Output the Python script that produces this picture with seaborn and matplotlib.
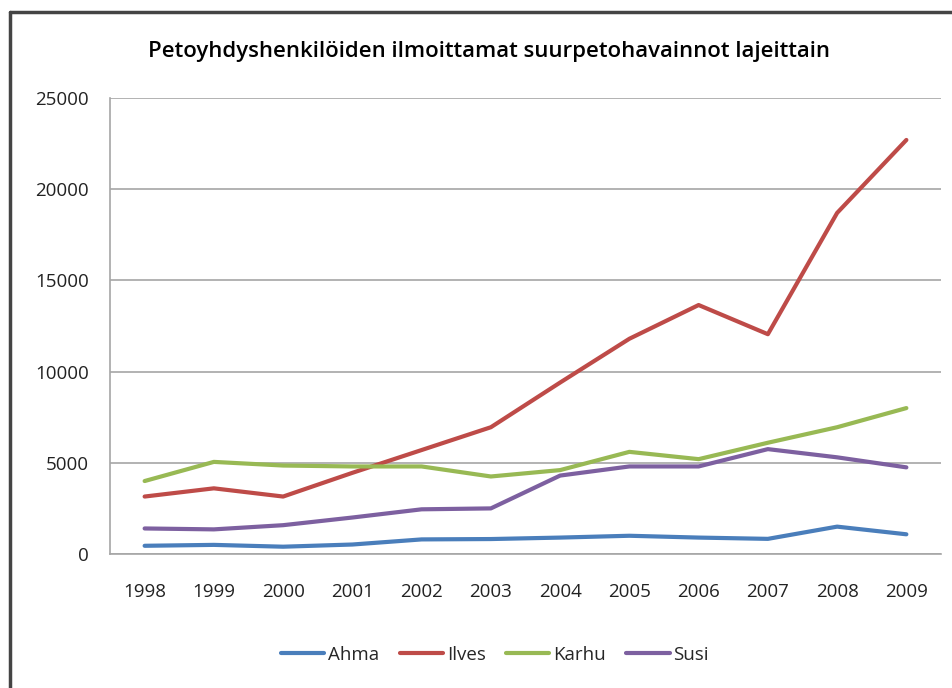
import pandas as pd
import matplotlib.pyplot as plt
import seaborn as sns

# data
years = ['1998', '1999', '2000', '2001', '2002', '2003',
         '2004', '2005', '2006', '2007', '2008', '2009']
ahma = [450, 500, 400, 520, 800, 820, 900, 1000, 900, 830, 1500, 1080]
ilves = [3150, 3600, 3150, 4450, 5700, 6950, 9400, 11800, 13650, 12050, 18700, 22700]
karhu = [4000, 5050, 4850, 4800, 4800, 4250, 4600, 5600, 5200, 6100, 6950, 8000]
susi = [1400, 1350, 1580, 2000, 2450, 2500, 4300, 4800, 4800, 5750, 5300, 4750]

species = ['Ahma', 'Ilves', 'Karhu', 'Susi']
colors = ['#4A7EBB', '#BE4B48', '#98B954', '#7D60A0']

# long form table for seaborn
rows = []
for name, vals in zip(species, [ahma, ilves, karhu, susi]):
    for i, v in enumerate(vals):
        rows.append({'pos': i, 'vuosi': years[i], 'laji': name, 'havainnot': v})
df = pd.DataFrame(rows)

sns.set_style("white")
plt.rcParams['font.family'] = ['Open Sans', 'DejaVu Sans']

fig = plt.figure(figsize=(9.52, 6.88), dpi=100)
ax = fig.add_axes([110 / 952, 1 - 554 / 688, 831 / 952, 456 / 688])

sns.lineplot(data=df, x='pos', y='havainnot', hue='laji', palette=colors,
             linewidth=3, ax=ax, legend=False)

ax.set_xlim(-0.5, len(years) - 0.5)
ax.set_ylim(0, 25000)
ax.set_xticks(range(len(years)))
ax.set_xticklabels(years)
ax.set_yticks(range(0, 25001, 5000))
ax.set_xlabel('')
ax.set_ylabel('')
ax.tick_params(axis='both', length=0, labelsize=13.5, colors='#222222')
ax.tick_params(axis='y', pad=15)
ax.tick_params(axis='x', pad=21)

ax.grid(axis='y', color='#A6A6A6', linewidth=1.2)
ax.set_axisbelow(True)
for side in ['top', 'right']:
    ax.spines[side].set_visible(False)
for side in ['left', 'bottom']:
    ax.spines[side].set_color('#A6A6A6')
    ax.spines[side].set_linewidth(1.2)

# title
fig.text(0.514, 1 - 52 / 688, 'Petoyhdyshenkilöiden ilmoittamat suurpetohavainnot lajeittain',
         ha='center', va='center', fontsize=15.9, fontweight='semibold', color='#000000')

# legend at bottom
handles = [plt.Line2D([], [], color=c, linewidth=3, solid_capstyle='round') for c in colors]
fig.legend(handles, species, loc='center', bbox_to_anchor=(0.52, 1 - 655 / 688),
           ncol=4, frameon=False, fontsize=13.5, handlelength=2.3,
           handletextpad=0.2, columnspacing=1.1)

# outer chart frame (cut off on the right and bottom)
fig.add_artist(plt.Line2D([10 / 952, 10 / 952], [0, 1 - 12 / 688], color='#444444',
                          linewidth=2.5, transform=fig.transFigure))
fig.add_artist(plt.Line2D([10 / 952, 1], [1 - 12 / 688, 1 - 12 / 688], color='#444444',
                          linewidth=2.5, transform=fig.transFigure))

fig.savefig('out.png', dpi=100)
